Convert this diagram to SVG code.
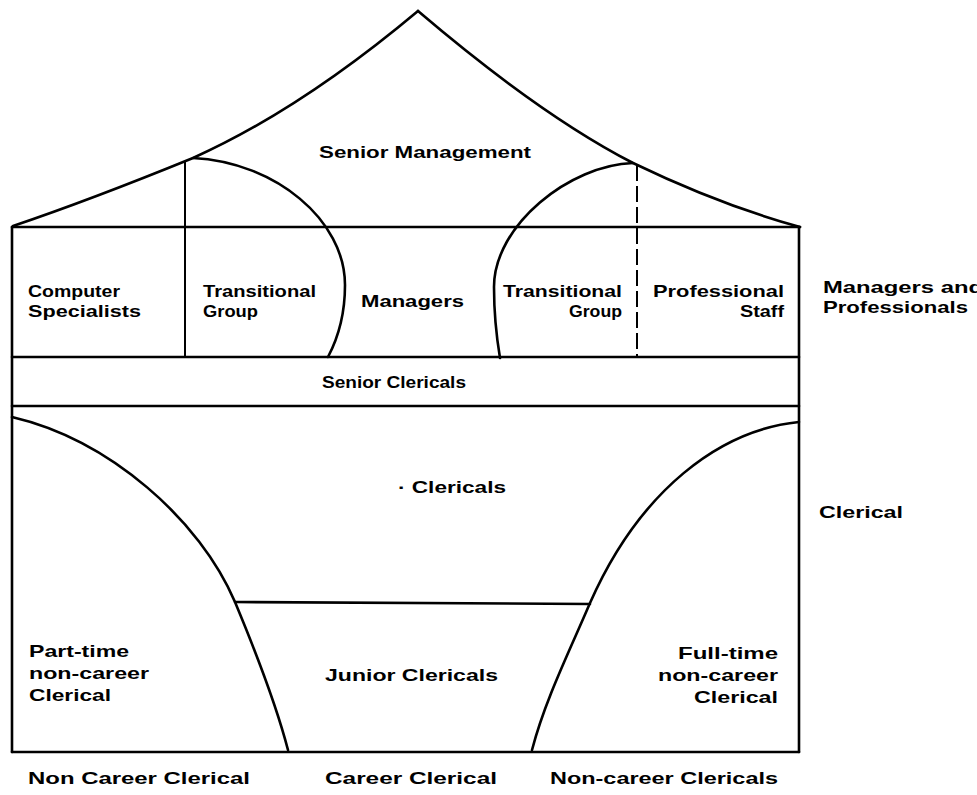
<svg xmlns="http://www.w3.org/2000/svg" width="977" height="795" viewBox="0 0 977 795">
<style>
.ln{fill:none;stroke:#000;stroke-width:2.6;stroke-linecap:round}
.thin{fill:none;stroke:#000;stroke-width:2;stroke-linecap:round}
.dash{fill:none;stroke:#000;stroke-width:2;stroke-dasharray:16 5}
text{font-family:"Liberation Sans",Arial,sans-serif;font-weight:bold;font-size:17px;fill:#000}
.e{text-anchor:end}
</style>
<rect width="977" height="795" fill="#fff"/>
<g id="connectors">
<path class="ln" d="M418,11 Q300,110 193,158 Q90,200 13,226"/>
<path class="ln" d="M418,11 Q540,115 633,163 Q720,205 800,227"/>
<path class="ln" d="M12,227 L800,227"/>
<path class="ln" d="M12,227 L12,752"/>
<path class="ln" d="M799,227 L799,752"/>
<path class="ln" d="M12,357 L799,357"/>
<path class="ln" d="M12,406 L799,406"/>
<path class="ln" d="M12,752 L799,752"/>
<path class="thin" d="M185,162 L185,357"/>
<path class="dash" d="M637,165 L637,357"/>
<path class="ln" d="M193,158 C275,162 345,220 345,285 C345,315 337,340 328,357"/>
<path class="ln" d="M633,163 C570,165 494,225 494,287 C494,320 497,340 500,358"/>
<path class="ln" d="M12,417 C110,440 200,520 235,602 C255,650 275,700 288,750"/>
<path class="ln" d="M799,422 C720,430 640,490 590,603 C570,650 545,700 532,750"/>
<path class="ln" d="M235,602 L590,604"/>
</g>
<g id="senior-management"><text x="319" y="158" textLength="212" lengthAdjust="spacingAndGlyphs">Senior Management</text></g>
<g id="computer-specialists"><text x="28" y="297" textLength="92" lengthAdjust="spacingAndGlyphs">Computer</text><text x="28" y="317" textLength="113" lengthAdjust="spacingAndGlyphs">Specialists</text></g>
<g id="transitional-group-left"><text x="203" y="297" textLength="113" lengthAdjust="spacingAndGlyphs">Transitional</text><text x="203" y="317" textLength="55" lengthAdjust="spacingAndGlyphs">Group</text></g>
<g id="managers"><text x="361" y="307" textLength="103" lengthAdjust="spacingAndGlyphs">Managers</text></g>
<g id="transitional-group-right"><text class="e" x="622" y="297" textLength="119" lengthAdjust="spacingAndGlyphs">Transitional</text><text class="e" x="622" y="317" textLength="53" lengthAdjust="spacingAndGlyphs">Group</text></g>
<g id="professional-staff"><text x="653" y="297" textLength="131" lengthAdjust="spacingAndGlyphs">Professional</text><text class="e" x="784" y="317" textLength="44" lengthAdjust="spacingAndGlyphs">Staff</text></g>
<g id="managers-and-professionals"><text x="823" y="293" textLength="160" lengthAdjust="spacingAndGlyphs">Managers and</text><text x="823" y="313" textLength="145" lengthAdjust="spacingAndGlyphs">Professionals</text></g>
<g id="senior-clericals"><text x="322" y="388" textLength="144" lengthAdjust="spacingAndGlyphs">Senior Clericals</text></g>
<g id="clericals"><text x="398" y="493" textLength="108" lengthAdjust="spacingAndGlyphs">· Clericals</text></g>
<g id="clerical"><text x="819" y="518" textLength="84" lengthAdjust="spacingAndGlyphs">Clerical</text></g>
<g id="part-time"><text x="29" y="657" textLength="100" lengthAdjust="spacingAndGlyphs">Part-time</text><text x="29" y="679" textLength="120" lengthAdjust="spacingAndGlyphs">non-career</text><text x="29" y="701" textLength="82" lengthAdjust="spacingAndGlyphs">Clerical</text></g>
<g id="junior-clericals"><text x="325" y="681" textLength="173" lengthAdjust="spacingAndGlyphs">Junior Clericals</text></g>
<g id="full-time"><text class="e" x="778" y="659" textLength="100" lengthAdjust="spacingAndGlyphs">Full-time</text><text class="e" x="778" y="681" textLength="120" lengthAdjust="spacingAndGlyphs">non-career</text><text class="e" x="778" y="703" textLength="84" lengthAdjust="spacingAndGlyphs">Clerical</text></g>
<g id="non-career-clerical-left"><text x="28" y="784" textLength="222" lengthAdjust="spacingAndGlyphs">Non Career Clerical</text></g>
<g id="career-clerical"><text x="325" y="784" textLength="172" lengthAdjust="spacingAndGlyphs">Career Clerical</text></g>
<g id="non-career-clericals-right"><text x="550" y="784" textLength="228" lengthAdjust="spacingAndGlyphs">Non-career Clericals</text></g>
</svg>
